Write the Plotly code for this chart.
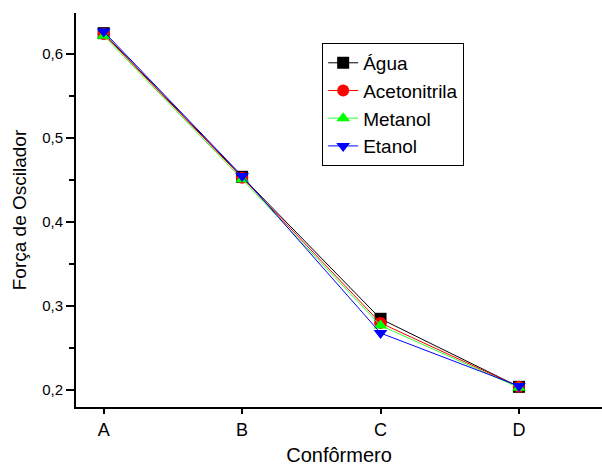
import plotly.graph_objects as go

categories = ["A", "B", "C", "D"]
agua = [0.625, 0.454, 0.285, 0.204]
acetonitrila = [0.624, 0.453, 0.280, 0.204]
metanol = [0.622, 0.451, 0.277, 0.203]
etanol = [0.627, 0.455, 0.268, 0.205]

series = [
    ("Água", agua, "black", "#000000", "square"),
    ("Acetonitrila", acetonitrila, "red", "#ff0000", "circle"),
    ("Metanol", metanol, "#33ff33", "#00ff00", "triangle-up"),
    ("Etanol", etanol, "blue", "#0000ff", "triangle-down"),
]

x_idx = list(range(len(categories)))

fig = go.Figure()
for name, vals, lc, mc, sym in series:
    fig.add_trace(go.Scatter(
        x=x_idx, y=vals, name=name, mode="lines+markers",
        line=dict(color=lc, width=1),
        marker=dict(color=mc, symbol=sym, size=12, line=dict(width=0)),
    ))

font_family = "Liberation Sans, Arial, sans-serif"
fig.update_layout(
    width=602, height=468,
    margin=dict(l=76, r=0, t=13, b=61),
    paper_bgcolor="white", plot_bgcolor="white",
    separators=",.",
    font=dict(family=font_family, color="black"),
    showlegend=True,
    legend=dict(
        x=0.468, y=0.924, xanchor="left", yanchor="top",
        bordercolor="black", borderwidth=1, bgcolor="white",
        font=dict(size=19, family=font_family),
        tracegroupgap=0,
    ),
    xaxis=dict(
        range=[-0.2, 3.6],
        tickmode="array", tickvals=x_idx, ticktext=categories,
        showline=True, linecolor="black", linewidth=2,
        ticks="outside", ticklen=5, tickwidth=2, tickcolor="black",
        showgrid=False, zeroline=False,
        tickfont=dict(size=18),
        title=dict(text="Confôrmero", font=dict(size=20), standoff=9),
    ),
    yaxis=dict(
        range=[0.18, 0.649],
        tickvals=[0.2, 0.3, 0.4, 0.5, 0.6], tickformat=".1f",
        showline=True, linecolor="black", linewidth=2,
        ticks="outside", ticklen=8, tickwidth=2, tickcolor="black",
        minor=dict(tickvals=[0.25, 0.35, 0.45, 0.55, 0.65], ticks="outside",
                   ticklen=5, tickwidth=2, tickcolor="black", showgrid=False),
        showgrid=False, zeroline=False,
        tickfont=dict(size=15),
        title=dict(text="Força de Oscilador", font=dict(size=19), standoff=10),
    ),
)

fig.write_html("out.html")
